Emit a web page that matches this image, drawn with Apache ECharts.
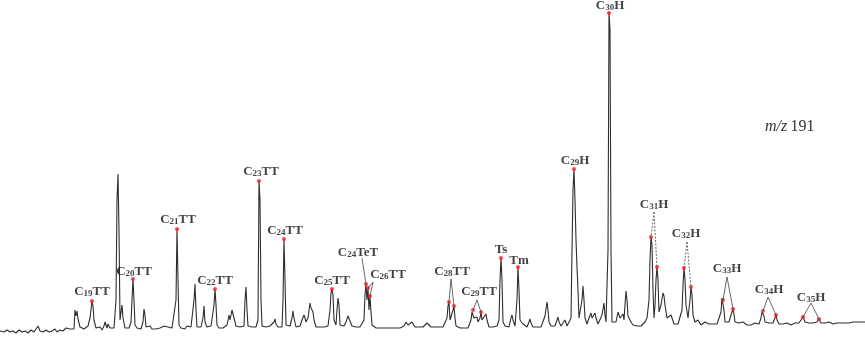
<!DOCTYPE html>
<html><head><meta charset="utf-8">
<script src="https://cdn.jsdelivr.net/npm/echarts@6/dist/echarts.min.js"></script>
<style>html,body{margin:0;padding:0;background:#fff}#c{width:865px;height:339px}</style>
</head><body><div id="c"></div>
<script>
// Retention position (scan) and abundance of the m/z 191 trace
const rt = [0,4,7,10,13,16,19,22,25,28,31,34,36,38,40,43,46,49,52,55,57,60,63,66,68,70,72,74,
75,76,77,78,80,82,84,86,88,90,92,93,94,96,98,100,102,104,105,107,108,110,112,114,115,116,117,118,119,120,122,123,125,127,129,131,132,133,134,135,137,139,141,143,144,145,146,148,150,152,154,156,158,160,162,164,166,168,170,172,174,176,177,178,179,181,183,185,187,189,191,193,194,195,196,197,199,201,203,204,205,207,209,211,213,214,215,216,217,219,221,223,225,227,229,230,232,233,234,236,238,240,242,244,245,246,247,248,250,252,254,256,258,259,260,261,262,264,266,268,270,272,274,275,276,278,280,282,283,284,285,286,288,290,292,293,294,296,298,300,302,304,305,306,308,310,311,313,314,316,318,320,322,324,326,328,330,331,332,333,334,336,337,338,339,340,342,344,346,348,349,350,352,354,356,358,360,362,364,365,366,367,368,369,370,371,372,374,376,378,380,382,384,386,388,390,392,394,396,398,400,402,404,406,407,408,410,412,413,415,417,419,421,423,425,427,428,429,431,433,435,437,439,441,443,445,447,448,449,450,452,453,454,455,456,458,460,462,464,466,468,470,471,472,473,474,476,477,478,480,481,482,484,486,487,489,491,493,495,497,499,500,501,502,503,505,507,509,511,512,513,515,517,518,519,520,522,523,525,527,529,530,531,533,535,537,539,541,543,545,547,548,549,551,553,555,557,558,559,561,563,565,566,567,569,571,572,573,574,575,576,577,578,579,581,582,583,584,585,587,589,591,592,593,595,596,598,600,602,604,605,606,608,609,610,611,612,614,616,618,619,620,622,623,624,625,626,627,628,630,631,633,635,637,639,641,643,645,647,649,650,651,652,653,654,655,656,657,658,659,661,663,664,665,667,669,671,672,674,676,678,680,682,683,684,685,686,688,690,691,692,693,695,697,698,699,701,703,705,707,709,711,713,715,717,719,721,722,723,724,725,727,729,731,733,734,735,737,739,741,743,745,747,749,751,753,755,757,759,761,762,763,764,765,767,769,771,773,775,776,777,779,781,783,785,787,789,791,793,795,797,799,801,803,805,807,809,811,813,815,817,819,821,823,825,827,829,831,833,835,837,839,841,843,845,847,849,851,853,855,857,859,861,863,865];
const abundance = [8,7,9,7,8,6,9,7,8,6,9,7,8,13,8,7,9,7,8,10,7,9,8,11,9,10,12,10,
29,23,28,20,12,11,10,11,13,21,38,33,19,11,10,12,9,13,17,11,15,11,10,11,10,39,139,165,109,19,34,21,11,13,11,17,39,60,39,14,11,12,10,17,30,24,12,11,13,10,11,10,12,11,10,13,11,12,10,11,12,39,110,59,14,11,12,10,13,11,12,14,39,55,29,12,11,12,21,33,17,12,11,13,14,34,50,34,14,11,12,11,12,14,24,19,29,31,21,13,11,12,11,13,39,52,29,13,11,12,11,12,19,158,139,39,13,11,12,11,13,12,17,20,15,12,11,12,39,100,59,14,12,13,21,28,21,12,11,13,19,24,21,17,21,36,31,27,19,12,11,12,11,12,11,13,29,46,50,44,19,14,29,41,34,14,12,13,17,23,24,21,13,11,12,11,12,13,19,44,55,39,51,29,43,27,14,12,11,13,11,12,11,12,11,13,11,12,11,13,11,12,13,17,19,14,12,17,15,12,11,12,11,12,13,16,18,14,12,11,12,11,12,11,12,13,21,33,37,19,21,29,33,21,13,12,11,12,11,12,11,13,19,27,29,21,19,22,17,21,27,19,17,25,19,12,11,12,11,13,19,59,81,59,17,13,14,12,21,24,19,13,39,72,49,19,21,15,13,12,17,20,16,12,11,12,13,12,14,23,37,29,17,13,12,13,19,22,17,13,15,19,18,13,14,21,89,149,170,139,99,72,49,21,19,39,53,39,21,15,21,26,21,19,26,21,15,17,24,36,24,17,89,327,309,89,17,15,17,27,28,21,23,25,19,34,48,39,23,21,17,14,15,13,15,13,14,17,21,39,79,102,94,49,21,34,59,72,59,27,34,46,43,34,21,19,24,21,15,14,15,17,29,54,71,59,34,21,39,52,44,24,17,16,19,17,14,15,17,18,15,14,15,16,15,17,27,41,39,29,17,15,17,24,30,25,17,15,16,15,17,15,14,15,14,15,16,14,15,21,27,28,23,17,15,16,15,16,21,24,19,15,14,15,14,16,15,14,15,16,15,16,18,22,17,15,16,15,16,15,17,20,16,15,16,15,17,16,15,17,16,17,16,17,16,17,16,18,17,16,17,16,17,16,17];

// Annotated compounds: label text, marked peak (red dot) positions
const compounds = ['C19TT','C20TT','C21TT','C22TT','C23TT','C24TT','C25TT','C24TeT','C26TT','C28TT','C29TT','Ts','Tm','C29H','C30H','C31H','C32H','C33H','C34H','C35H'];
const dotX = [92,133,177,215,259,284,332,366,368,370,449,454,473,481,501,518,574,609,651,657,684,691,723,733,763,776,803,819];
const dotY = [38,60,110,50,158,100,50,55,51,43,37,33,29,27,81,72,170,326,102,72,71,52,39,30,28,24,22,20];

// Label anchor positions (layout)
const labelX = [92,134,178,215,261,285,332,358,388,452,479,501,519,575,610,654,686,727,769,811];
const labelY = [47,67,119,58,167,108,58,86,64,67,47,89,78,178,333,134,105,70,49,41];

// Leader lines: [x1,y1,x2,y2,dashed]
const leaders = [
  [362,81,366,55,0],[373,57,368,51,0],[373,57,370,43,0],
  [451,60,449,37,0],[451,60,454,33,0],
  [477,39,473,29,0],[477,39,481,27,0],
  [654,127,651,102,1],[654,127,657,72,1],
  [687,97,684,71,1],[687,97,691,52,1],
  [727,62,723,39,0],[727,62,733,30,0],
  [768,42,763,28,0],[768,42,776,24,0],
  [811,36,803,22,0],[811,36,819,20,0]
];

function richName(n){
  const m = n.match(/^C(\d+)(.*)$/);
  if(!m) return '{b|'+n+'}';
  return '{b|C}{s|'+m[1]+'}{b|'+m[2]+'}';
}

const chart = echarts.init(document.getElementById('c'), null, {renderer:'canvas'});
chart.setOption({
  animation:false,
  grid:{left:0,right:0,top:0,bottom:0},
  xAxis:{type:'value',min:0,max:865,show:false},
  yAxis:{type:'value',min:0,max:339,show:false},
  series:[
    {type:'line',data:rt.map((x,i)=>[x,abundance[i]]),showSymbol:false,symbol:'none',
     lineStyle:{color:'#2e2e2e',width:1.1},z:2},
    {type:'scatter',data:dotX.map((x,i)=>[x,dotY[i]]),symbol:'circle',symbolSize:4,
     itemStyle:{color:'#ff1a1a'},z:4,
     markLine:{silent:true,symbol:'none',animation:false,
       label:{show:false},
       lineStyle:{color:'#444',width:0.8,type:'solid'},
       data:leaders.map(l=>[{coord:[l[0],l[1]],lineStyle:{type:l[4]?[2,1.5]:'solid',color:'#444',width:0.8}},{coord:[l[2],l[3]]}])}
    },
    {type:'scatter',data:labelX.map((x,i)=>({value:[x,labelY[i]],name:compounds[i]})),
     symbolSize:0,z:5,
     label:{show:true,position:'inside',
       formatter:p=>richName(p.name),
       rich:{
         b:{fontFamily:'Liberation Serif',fontWeight:'bold',fontSize:13,color:'#111'},
         s:{fontFamily:'Liberation Serif',fontWeight:'bold',fontSize:9,color:'#111',verticalAlign:'bottom',padding:[3,0,0,0]}
       }}
    }
  ],
  graphic:[{type:'text',left:765,top:119,style:{
    rich:{i:{fontFamily:'Liberation Serif',fontStyle:'italic',fontSize:16,fill:'#333'},
          r:{fontFamily:'Liberation Serif',fontSize:16,fill:'#333'}},
    text:'{i|m/z} {r|191}'}}]
});
</script></body></html>
